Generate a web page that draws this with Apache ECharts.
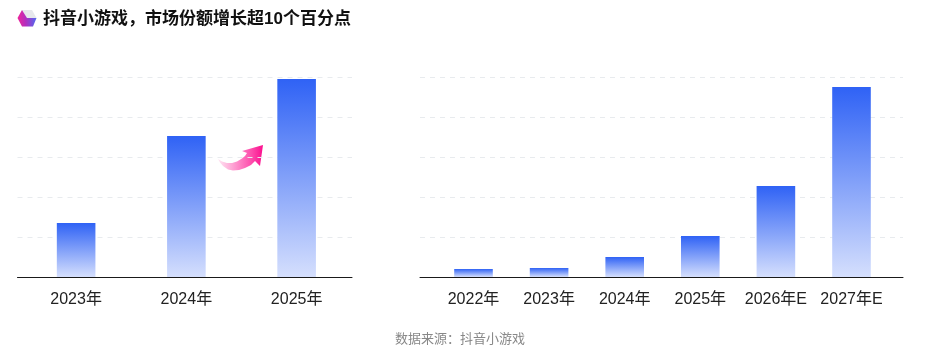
<!DOCTYPE html>
<html><head><meta charset="utf-8">
<style>html,body{margin:0;padding:0;background:#fff}#c{width:925px;height:355px}</style>
<script src="https://cdn.jsdelivr.net/npm/echarts@6/dist/echarts.min.js"></script>
</head><body><div id="c"></div>
<script>
const titleText = '抖音小游戏，市场份额增长超10个百分点';
const sourceText = '数据来源：抖音小游戏';
const leftCategories = ['2023年','2024年','2025年'];
const leftValues = [27, 70.5, 99];
const rightCategories = ['2022年','2023年','2024年','2025年','2026年E','2027年E'];
const rightValues = [4, 4.5, 10, 20.5, 45.5, 95];
const FONT = '"Liberation Sans","Noto Sans CJK SC",sans-serif';
const barFill = {type:'linear',x:0,y:0,x2:0,y2:1,colorStops:[{offset:0,color:'#2F62F5'},{offset:1,color:'#D5DFFD'}]};
const frame = (l,r)=>({left:l,right:925-r,top:77,height:200});
const grids = [frame(17.5,352),frame(21,351.75),frame(420,903),frame(435.7,889.3)];
const xAxis = (g,data,show)=>({type:'category',gridIndex:g,data,
  axisLine:{show,lineStyle:{color:'#1a1a1a',width:1}},axisTick:{show:false},
  axisLabel:{show:!show,color:'#222',fontSize:16,fontFamily:FONT,margin:15,interval:0}});
const yAxis = (g,show)=>({type:'value',gridIndex:g,min:0,max:100,interval:20,
  axisLine:{show:false},axisTick:{show:false},axisLabel:{show:false},
  splitLine:{show,lineStyle:{color:'#E8EBEE',type:[5,5],width:1}}});
const bars = (g,data,w)=>({type:'bar',xAxisIndex:g,yAxisIndex:g,data,barWidth:w,
  itemStyle:{color:barFill},silent:true,animation:false});
const arrowOutline = [[218,159],[222,161.5],[227,163],[232,163],[237,161.5],[242,158.5],[245,156],[247,153],[242,151],[263,145],[260,166],[255,161],[251,165],[245,168],[239,170],[233,170.5],[228,169.5],[223,166],[220,162.5]];
const opt = {
  animation:false,backgroundColor:'#fff',
  grid:grids,
  xAxis:[xAxis(0,leftCategories,true),xAxis(1,leftCategories,false),xAxis(2,rightCategories,true),xAxis(3,rightCategories,false)],
  yAxis:[yAxis(0,true),yAxis(1,false),yAxis(2,true),yAxis(3,false)],
  series:[bars(1,leftValues,38.6),bars(3,rightValues,38.6)],
  graphic:[
    {type:'text',x:43,y:11,style:{text:titleText,font:'bold 17px '+FONT,fill:'#111'}},
    {type:'text',x:395,y:333,style:{text:sourceText,font:'13px '+FONT,fill:'#888'}},
    {type:'polygon',shape:{points:[[22,10],[32,10],[36.5,18],[27,18]]},style:{fill:'#E6E8EC'}},
    {type:'polygon',shape:{points:[[22,10],[27,18],[36.5,18],[33,26.5],[22,26.5],[17.5,18]]},style:{fill:{type:'linear',x:0,y:0,x2:1,y2:0,colorStops:[{offset:0,color:'#F0259A'},{offset:0.45,color:'#B02FC0'},{offset:1,color:'#4F6BF0'}]}}},
    {type:'polygon',shape:{points:arrowOutline},
      style:{fill:{type:'linear',x:0,y:0,x2:1,y2:0,colorStops:[{offset:0,color:'#FFE6F3'},{offset:0.75,color:'#FD4BAB'},{offset:1,color:'#FB0F8E'}]}}}
  ]
};
echarts.init(document.getElementById('c'),null,{renderer:'canvas'}).setOption(opt);
</script></body></html>
